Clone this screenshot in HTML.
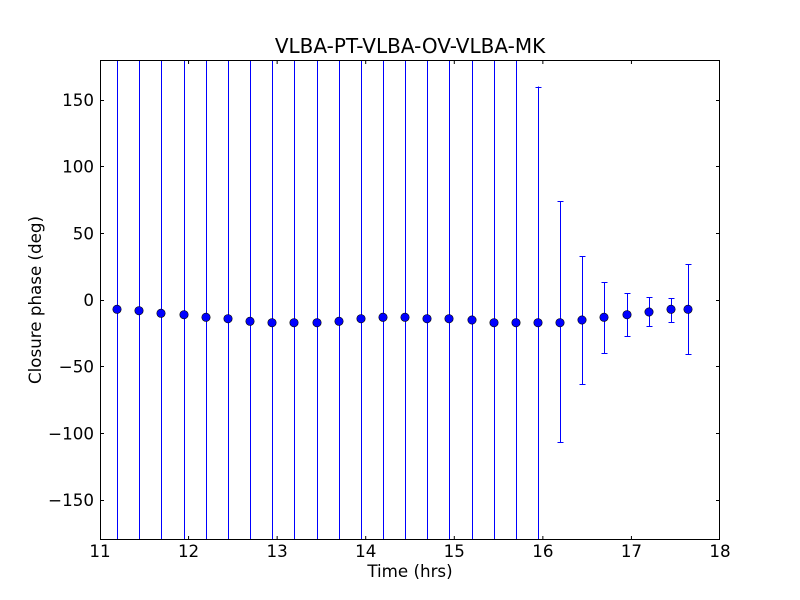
<!DOCTYPE html>
<html><head><style>body{margin:0;background:#fff}svg{display:block}</style></head><body>
<svg width="800" height="600" viewBox="0 0 800 600" xmlns="http://www.w3.org/2000/svg" font-family="DejaVu Sans, Liberation Sans, sans-serif">
<rect width="800" height="600" fill="#fff"/>
<g stroke="#0000ff" stroke-width="1" shape-rendering="crispEdges" transform="translate(0.5,0)">
<line x1="117" y1="60" x2="117" y2="540"/>
<line x1="139" y1="60" x2="139" y2="540"/>
<line x1="161" y1="60" x2="161" y2="540"/>
<line x1="184" y1="60" x2="184" y2="540"/>
<line x1="206" y1="60" x2="206" y2="540"/>
<line x1="228" y1="60" x2="228" y2="540"/>
<line x1="250" y1="60" x2="250" y2="540"/>
<line x1="272" y1="60" x2="272" y2="540"/>
<line x1="294" y1="60" x2="294" y2="540"/>
<line x1="317" y1="60" x2="317" y2="540"/>
<line x1="339" y1="60" x2="339" y2="540"/>
<line x1="361" y1="60" x2="361" y2="540"/>
<line x1="383" y1="60" x2="383" y2="540"/>
<line x1="405" y1="60" x2="405" y2="540"/>
<line x1="427" y1="60" x2="427" y2="540"/>
<line x1="449" y1="60" x2="449" y2="540"/>
<line x1="472" y1="60" x2="472" y2="540"/>
<line x1="494" y1="60" x2="494" y2="540"/>
<line x1="516" y1="60" x2="516" y2="540"/>
<line x1="538" y1="86.7" x2="538" y2="540"/><line x1="535" y1="87.5" x2="541" y2="87.5"/>
<line x1="560" y1="201.3" x2="560" y2="442.7"/><line x1="557" y1="201.5" x2="563" y2="201.5"/><line x1="557" y1="442.5" x2="563" y2="442.5"/>
<line x1="582" y1="256" x2="582" y2="384"/><line x1="579" y1="256.5" x2="585" y2="256.5"/><line x1="579" y1="384.5" x2="585" y2="384.5"/>
<line x1="604" y1="282.7" x2="604" y2="353.3"/><line x1="601" y1="282.5" x2="607" y2="282.5"/><line x1="601" y1="353.5" x2="607" y2="353.5"/>
<line x1="627" y1="293.3" x2="627" y2="336"/><line x1="624" y1="293.5" x2="630" y2="293.5"/><line x1="624" y1="336.5" x2="630" y2="336.5"/>
<line x1="649" y1="297.3" x2="649" y2="326.7"/><line x1="646" y1="297.5" x2="652" y2="297.5"/><line x1="646" y1="326.5" x2="652" y2="326.5"/>
<line x1="671" y1="298.7" x2="671" y2="322.7"/><line x1="668" y1="298.5" x2="674" y2="298.5"/><line x1="668" y1="322.5" x2="674" y2="322.5"/>
<line x1="688" y1="264" x2="688" y2="354.7"/><line x1="685" y1="264.5" x2="691" y2="264.5"/><line x1="685" y1="354.5" x2="691" y2="354.5"/>
</g>
<g fill="#0000ff" stroke="#000" stroke-width="0.6">
<circle cx="117" cy="309.3" r="4.2"/>
<circle cx="139" cy="310.7" r="4.2"/>
<circle cx="161" cy="313.3" r="4.2"/>
<circle cx="184" cy="314.7" r="4.2"/>
<circle cx="206" cy="317.3" r="4.2"/>
<circle cx="228" cy="318.7" r="4.2"/>
<circle cx="250" cy="321.3" r="4.2"/>
<circle cx="272" cy="322.7" r="4.2"/>
<circle cx="294" cy="322.7" r="4.2"/>
<circle cx="317" cy="322.7" r="4.2"/>
<circle cx="339" cy="321.3" r="4.2"/>
<circle cx="361" cy="318.7" r="4.2"/>
<circle cx="383" cy="317.3" r="4.2"/>
<circle cx="405" cy="317.3" r="4.2"/>
<circle cx="427" cy="318.7" r="4.2"/>
<circle cx="449" cy="318.7" r="4.2"/>
<circle cx="472" cy="320" r="4.2"/>
<circle cx="494" cy="322.7" r="4.2"/>
<circle cx="516" cy="322.7" r="4.2"/>
<circle cx="538" cy="322.7" r="4.2"/>
<circle cx="560" cy="322.7" r="4.2"/>
<circle cx="582" cy="320" r="4.2"/>
<circle cx="604" cy="317.3" r="4.2"/>
<circle cx="627" cy="314.7" r="4.2"/>
<circle cx="649" cy="312" r="4.2"/>
<circle cx="671" cy="309.3" r="4.2"/>
<circle cx="688" cy="309.3" r="4.2"/>
</g>
<rect x="100.5" y="60.5" width="619" height="479" fill="none" stroke="#000" stroke-width="1"/>
<g stroke="#000" stroke-width="1">
<line x1="188.57" y1="540" x2="188.57" y2="536"/><line x1="188.57" y1="60" x2="188.57" y2="64"/>
<line x1="277.14" y1="540" x2="277.14" y2="536"/><line x1="277.14" y1="60" x2="277.14" y2="64"/>
<line x1="365.71" y1="540" x2="365.71" y2="536"/><line x1="365.71" y1="60" x2="365.71" y2="64"/>
<line x1="454.29" y1="540" x2="454.29" y2="536"/><line x1="454.29" y1="60" x2="454.29" y2="64"/>
<line x1="542.86" y1="540" x2="542.86" y2="536"/><line x1="542.86" y1="60" x2="542.86" y2="64"/>
<line x1="631.43" y1="540" x2="631.43" y2="536"/><line x1="631.43" y1="60" x2="631.43" y2="64"/>
<line x1="100" y1="100.5" x2="104" y2="100.5"/><line x1="720" y1="100.5" x2="716" y2="100.5"/>
<line x1="100" y1="166.5" x2="104" y2="166.5"/><line x1="720" y1="166.5" x2="716" y2="166.5"/>
<line x1="100" y1="233.5" x2="104" y2="233.5"/><line x1="720" y1="233.5" x2="716" y2="233.5"/>
<line x1="100" y1="300.5" x2="104" y2="300.5"/><line x1="720" y1="300.5" x2="716" y2="300.5"/>
<line x1="100" y1="366.5" x2="104" y2="366.5"/><line x1="720" y1="366.5" x2="716" y2="366.5"/>
<line x1="100" y1="433.5" x2="104" y2="433.5"/><line x1="720" y1="433.5" x2="716" y2="433.5"/>
<line x1="100" y1="500.5" x2="104" y2="500.5"/><line x1="720" y1="500.5" x2="716" y2="500.5"/>
</g>
<g font-size="16.7" fill="#000" text-anchor="middle">
<text x="100" y="557">11</text><text x="188.57" y="557">12</text><text x="277.14" y="557">13</text><text x="365.71" y="557">14</text><text x="454.29" y="557">15</text><text x="542.86" y="557">16</text><text x="631.43" y="557">17</text><text x="720" y="557">18</text>
</g>
<g font-size="16.7" fill="#000" text-anchor="end">
<text x="94" y="106">150</text><text x="94" y="172.67">100</text><text x="94" y="239.33">50</text><text x="94" y="306">0</text><text x="94" y="372.67">−50</text><text x="94" y="439.33">−100</text><text x="94" y="506">−150</text>
</g>
<text x="410" y="53" font-size="20" text-anchor="middle">VLBA-PT-VLBA-OV-VLBA-MK</text>
<text x="410" y="577" font-size="16.7" text-anchor="middle">Time (hrs)</text>
<text transform="translate(41,300) rotate(-90)" font-size="16.7" text-anchor="middle">Closure phase (deg)</text>
</svg>
</body></html>
